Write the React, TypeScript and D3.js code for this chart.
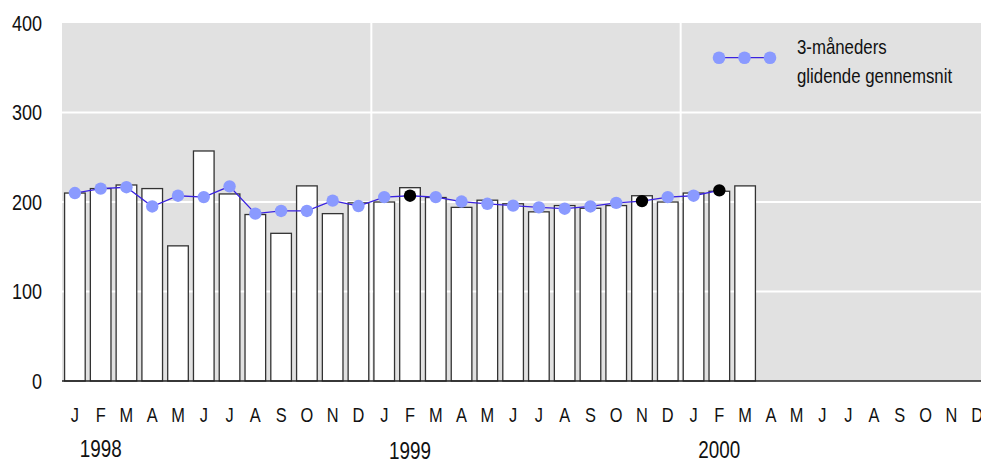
import React, { useEffect } from 'react';
import * as d3 from 'd3';

// monthly values Jan 1998 .. Mar 2000
const barValues = [
  210, 215, 219, 215, 151, 257, 209, 186, 165, 218, 187, 199,
  200, 216, 205, 194, 202, 198, 189, 196, 193, 196, 207, 200,
  210, 212, 218,
];

// 3-month moving average, Jan 1998 .. Feb 2000
const avgValues = [
  210, 215, 216.5, 195, 207, 205.5, 217.5, 187, 190, 190, 201.5, 195.5,
  205.5, 207, 205.5, 200.5, 198, 196, 194, 192.5, 195, 199, 201, 205.5,
  207, 213,
];

// months where the average point is drawn black
const highlighted = [13, 22, 25];

const monthLetters = ['J', 'F', 'M', 'A', 'M', 'J', 'J', 'A', 'S', 'O', 'N', 'D'];
const years = ['1998', '1999', '2000'];
const yTicks = [0, 100, 200, 300, 400];
const legendLines = ['3-måneders', 'glidende gennemsnit'];

const W = 981;
const H = 461;
const FONT = '"Liberation Sans", Arial, sans-serif';
const NARROW = 0.82;

type TxtProps = {
  x: number;
  y: number;
  size: number;
  anchor?: 'start' | 'middle' | 'end';
  dy?: string;
  children: React.ReactNode;
};

// narrow sans: regular Liberation Sans squeezed horizontally
const Txt: React.FC<TxtProps> = ({ x, y, size, anchor = 'start', dy, children }) => (
  <text
    transform={`translate(${x},${y}) scale(${NARROW},1)`}
    textAnchor={anchor}
    dy={dy}
    fontSize={size}
    fill="#111"
  >
    {children}
  </text>
);

const App: React.FC = () => {
  useEffect(() => {
    document.body.style.margin = '0';
    document.body.style.overflow = 'hidden';
  }, []);

  const months = d3.range(years.length * 12);
  const x = d3
    .scaleBand<number>()
    .domain(months)
    .range([62, 990])
    .paddingInner(0.2)
    .paddingOuter(0.1);
  const y = d3.scaleLinear().domain([0, 400]).range([381, 23]);

  const plotLeft = 62;
  const cx = (i: number) => (x(i) || 0) + x.bandwidth() / 2;
  const gap = (x.step() * x.paddingInner()) / 2;

  const line = d3
    .line<number>()
    .x((_, i) => cx(i))
    .y((d) => y(d));

  const yearBaselines = [457, 459, 458];

  return (
    <svg width={W} height={H} style={{ position: 'absolute', left: 0, top: 0 }} fontFamily={FONT}>
      <rect x={plotLeft} y={y(400)} width={W - plotLeft} height={y(0) - y(400)} fill="#e1e1e1" />
      {yTicks
        .filter((t) => t > 0 && t < 400)
        .map((t) => (
          <line key={t} x1={plotLeft} x2={W} y1={y(t)} y2={y(t)} stroke="#fff" strokeWidth={2} />
        ))}
      {[12, 24].map((m) => (
        <line
          key={m}
          x1={(x(m) || 0) - gap}
          x2={(x(m) || 0) - gap}
          y1={y(400)}
          y2={y(0)}
          stroke="#fff"
          strokeWidth={2}
        />
      ))}

      {barValues.map((v, i) => (
        <rect
          key={i}
          x={x(i)}
          y={y(v)}
          width={x.bandwidth()}
          height={y(0) - y(v)}
          fill="#fff"
          stroke="#333"
          strokeWidth={1.3}
        />
      ))}

      <line x1={plotLeft} x2={W} y1={y(0)} y2={y(0)} stroke="#222" strokeWidth={1.5} />

      <path d={line(avgValues) || ''} fill="none" stroke="#3a22e0" strokeWidth={1.3} />
      {avgValues.map((v, i) => (
        <circle
          key={i}
          cx={cx(i)}
          cy={y(v)}
          r={6.2}
          fill={highlighted.includes(i) ? '#000' : '#8a9aff'}
        />
      ))}

      {yTicks.map((t) => (
        <Txt key={t} x={42} y={y(t)} dy="0.36em" anchor="end" size={22}>
          {t}
        </Txt>
      ))}

      {months.map((m) => (
        <Txt key={m} x={cx(m)} y={422} anchor="middle" size={20}>
          {monthLetters[m % 12]}
        </Txt>
      ))}
      {years.map((yr, k) => (
        <Txt key={yr} x={cx(k * 12 + 1)} y={yearBaselines[k]} anchor="middle" size={23}>
          {yr}
        </Txt>
      ))}

      <g>
        <line x1={719} x2={770} y1={57.7} y2={57.7} stroke="#3a22e0" strokeWidth={1.3} />
        {[719, 744.5, 770].map((lx) => (
          <circle key={lx} cx={lx} cy={57.7} r={6.3} fill="#8a9aff" />
        ))}
        {legendLines.map((t, k) => (
          <Txt key={t} x={797} y={54 + k * 29} size={20.5}>
            {t}
          </Txt>
        ))}
      </g>
    </svg>
  );
};

export default App;
